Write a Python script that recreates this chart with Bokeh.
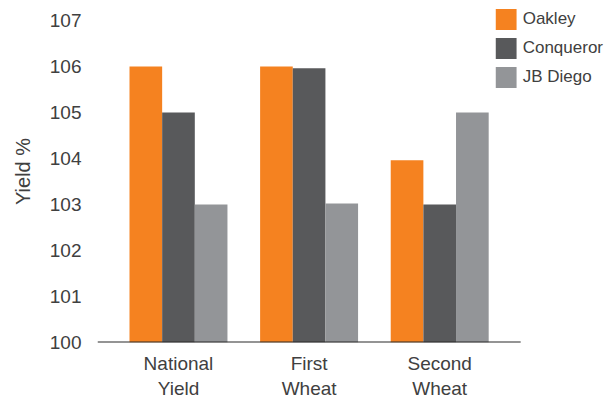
from bokeh.plotting import figure
from bokeh.models import Legend, LegendItem, ColumnDataSource, Range1d, FixedTicker
from bokeh.transform import dodge
from bokeh.embed import file_html
from bokeh.resources import INLINE

categories = ["National\nYield", "First\nWheat", "Second\nWheat"]
series = ["Oakley", "Conqueror", "JB Diego"]
oakley = [106.0, 106.0, 103.96]
conqueror = [105.0, 105.96, 103.0]
jb_diego = [103.0, 103.02, 105.0]
y_ticks = [100, 101, 102, 103, 104, 105, 106, 107]
colors = ["#F58220", "#58595B", "#939598"]

FONT = "Liberation Sans"
TXT = "#404040"

# layout constants (category slots are 1 unit wide)
X_LO = -0.12
X_HI_AXIS = len(categories) - X_LO
X_HI_FRAME = 3.80
Y_TOP = 107.435

xc = [i + 0.5 for i in range(len(categories))]
src = ColumnDataSource(dict(x=xc, Oakley=oakley, Conqueror=conqueror, JB=jb_diego))

p = figure(width=609, height=403, output_backend="svg", toolbar_location=None,
           x_range=Range1d(X_LO, X_HI_FRAME), y_range=Range1d(y_ticks[0], Y_TOP))
p.min_border_left = 97
p.min_border_right = 0
p.min_border_top = 0
p.min_border_bottom = 61
p.outline_line_color = None
p.xgrid.grid_line_color = None
p.ygrid.grid_line_color = None

cols = ["Oakley", "Conqueror", "JB"]
offsets = [-0.25, 0.0, 0.25]
renderers = []
for col, off, c in zip(cols, offsets, colors):
    r = p.vbar(x=dodge("x", off), top=col, bottom=y_ticks[0], width=0.25,
               source=src, fill_color=c, line_color=None)
    renderers.append(r)

# baseline (x axis line)
p.segment(x0=[X_LO], x1=[X_HI_AXIS], y0=[y_ticks[0]], y1=[y_ticks[0]],
          line_color="#2b2b2b", line_width=2)

# y axis
p.yaxis.ticker = FixedTicker(ticks=y_ticks)
p.yaxis.axis_line_color = None
p.yaxis.major_tick_line_color = None
p.yaxis.minor_tick_line_color = None
p.yaxis.major_tick_out = 0
p.yaxis.major_tick_in = 0
p.yaxis.major_label_standoff = 16
p.yaxis.major_label_text_font = FONT
p.yaxis.major_label_text_font_size = "19px"
p.yaxis.major_label_text_color = TXT
p.yaxis.axis_label = "Yield %"
p.yaxis.axis_label_text_font = FONT
p.yaxis.axis_label_text_font_size = "20px"
p.yaxis.axis_label_text_font_style = "normal"
p.yaxis.axis_label_text_color = TXT
p.yaxis.axis_label_standoff = 13

# x axis
p.xaxis.ticker = FixedTicker(ticks=xc)
p.xaxis.major_label_overrides = {x: c for x, c in zip(xc, categories)}
p.xaxis.axis_line_color = None
p.xaxis.major_tick_line_color = None
p.xaxis.minor_tick_line_color = None
p.xaxis.major_tick_out = 0
p.xaxis.major_tick_in = 0
p.xaxis.major_label_standoff = 10
p.xaxis.major_label_text_font = FONT
p.xaxis.major_label_text_font_size = "19px"
p.xaxis.major_label_text_line_height = 1.2
p.xaxis.major_label_text_color = TXT

legend = Legend(items=[LegendItem(label=s, renderers=[r]) for s, r in zip(series, renderers)],
                location="top_right")
legend.padding = 6
legend.margin = 6
legend.spacing = 3
legend.glyph_width = 26
legend.glyph_height = 26
legend.label_standoff = 4
legend.label_text_font = FONT
legend.label_text_font_size = "17px"
legend.label_text_color = TXT
legend.border_line_color = None
legend.background_fill_alpha = 0
p.add_layout(legend, "center")

open("out.html", "w").write(file_html(p, INLINE))
